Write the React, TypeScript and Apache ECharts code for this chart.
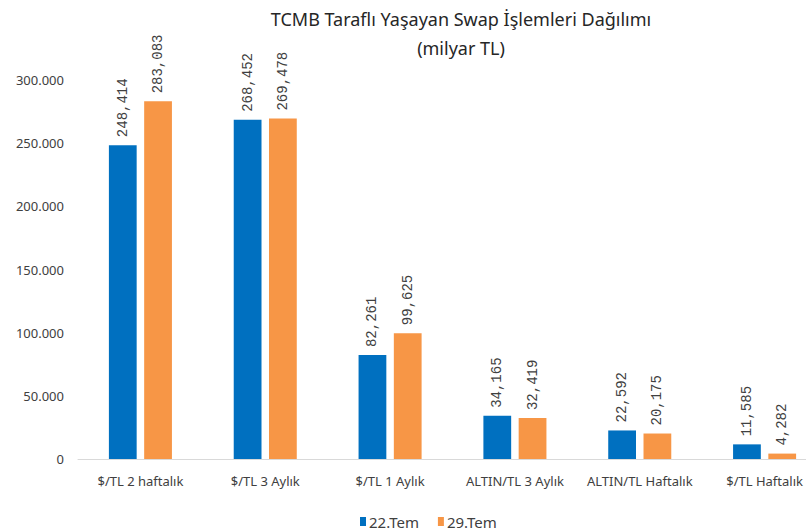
import React, { useEffect, useRef } from "react";
import * as echarts from "echarts";

const categories = ["$/TL 2 haftalık", "$/TL 3 Aylık", "$/TL 1 Aylık", "ALTIN/TL 3 Aylık", "ALTIN/TL Haftalık", "$/TL Haftalık"];
const series22 = [248414, 268452, 82261, 34165, 22592, 11585];
const series29 = [283083, 269478, 99625, 32419, 20175, 4282];
const seriesNames = ["22.Tem", "29.Tem"];
const titleText = "TCMB Taraflı Yaşayan Swap İşlemleri Dağılımı";
const subtitleText = "(milyar TL)";

const fmtComma = (v: number) => String(v).replace(/\B(?=(\d{3})+(?!\d))/g, ",");
const fmtDot = (v: number) => String(v).replace(/\B(?=(\d{3})+(?!\d))/g, ".");

export default function App() {
  const ref = useRef<HTMLDivElement>(null);
  useEffect(() => {
    if (!ref.current) return;
    const chart = echarts.init(ref.current, null, { renderer: "svg" });
    const label = {
      show: true,
      position: "top",
      rotate: 90,
      align: "left",
      verticalAlign: "middle",
      distance: 8,
      fontFamily: "Liberation Mono",
      fontSize: 14,
      color: "#404040",
      formatter: (p: any) => fmtComma(p.value),
    };
    chart.setOption({
      animation: false,
      backgroundColor: "#ffffff",
      title: {
        text: titleText + "\n" + subtitleText,
        left: 461,
        top: 4,
        padding: 0,
        textAlign: "center",
        textStyle: {
          fontFamily: "Noto Sans",
          fontSize: 18,
          fontWeight: "normal",
          color: "#262626",
          lineHeight: 29,
        },
      },
      legend: {
        data: seriesNames,
        left: 360,
        top: 514,
        padding: 0,
        itemWidth: 6,
        itemHeight: 9,
        itemGap: 19,
        icon: "rect",
        textStyle: { fontFamily: "Noto Sans", fontSize: 15, color: "#404040", padding: [0, 0, 0, -2] },
      },
      grid: {
        left: 78,
        top: 80,
        width: 749,
        height: 379,
        containLabel: false,
        outerBoundsMode: "none",
      },
      xAxis: {
        type: "category",
        data: categories,
        axisLine: { show: true, lineStyle: { color: "#d9d9d9", width: 1 } },
        axisTick: { show: false },
        axisLabel: { fontFamily: "Noto Sans", fontSize: 13, color: "#404040", margin: 15, interval: 0 },
      },
      yAxis: {
        type: "value",
        min: 0,
        max: 300000,
        interval: 50000,
        splitLine: { show: false },
        axisLine: { show: false },
        axisTick: { show: false },
        axisLabel: {
          fontFamily: "Noto Sans",
          fontSize: 13,
          color: "#404040",
          margin: 14,
          formatter: (v: number) => fmtDot(v),
        },
      },
      series: [
        {
          name: seriesNames[0],
          type: "bar",
          data: series22,
          itemStyle: { color: "#0070C0" },
          barGap: "27%",
          barCategoryGap: "49.5%",
          label,
        },
        {
          name: seriesNames[1],
          type: "bar",
          data: series29,
          itemStyle: { color: "#F79646" },
          label,
        },
      ],
    });
    return () => chart.dispose();
  }, []);
  return (
    <div
      ref={ref}
      style={{ position: "fixed", left: 0, top: 0, width: 806, height: 532, overflow: "hidden" }}
    />
  );
}
